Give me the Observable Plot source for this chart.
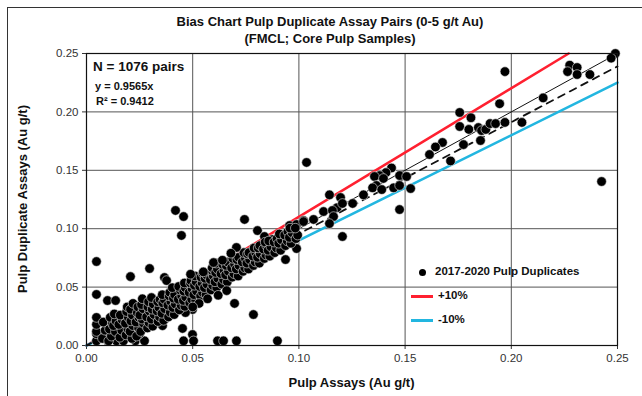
<!DOCTYPE html>
<html>
<head>
<meta charset="utf-8">
<script src="https://cdn.jsdelivr.net/npm/d3@7"></script>
<script src="https://cdn.jsdelivr.net/npm/@observablehq/plot@0.6"></script>
<style>
  html, body { margin: 0; padding: 0; background: #fff; }
  #wrap { position: relative; width: 642px; height: 396px; overflow: hidden; font-family: "Liberation Sans", Arial, sans-serif; color: #111; }
  #border { position: absolute; left: 7px; top: 7px; width: 700px; height: 500px; border-left: 1.5px solid #333; border-top: 1.5px solid #333; }
  .t { position: absolute; font-weight: bold; white-space: nowrap; line-height: 1; }
  #chart { position: absolute; left: 0; top: 0; }
</style>
</head>
<body>
<div id="wrap">
  <div id="border"></div>
  <div id="chart"></div>
  <div class="t" style="font-size:13px; left:0; width:660px; text-align:center; top:15px;">Bias Chart Pulp Duplicate Assay Pairs (0-5 g/t Au)</div>
  <div class="t" style="font-size:13px; left:0; width:660px; text-align:center; top:32px;">(FMCL; Core Pulp Samples)</div>
  <div class="t" style="font-size:13.5px; left:93px; top:60px;">N = 1076 pairs</div>
  <div class="t" style="font-size:11px; left:95px; top:81px;">y = 0.9565x</div>
  <div class="t" style="font-size:11px; left:96px; top:96px;">R² = 0.9412</div>
  <div class="t" style="font-size:13px; left:86px; width:531px; text-align:center; top:376px;">Pulp Assays (Au g/t)</div>
  <div class="t" style="font-size:13px; left:22px; top:199px; transform: translate(-50%,-50%) rotate(-90deg);">Pulp Duplicate Assays (Au g/t)</div>
  <div style="position:absolute; left:419px; top:269px; width:7px; height:7px; border-radius:50%; background:#000;"></div>
  <div class="t" style="font-size:11.5px; left:435px; top:266px;">2017-2020 Pulp Duplicates</div>
  <div style="position:absolute; left:411px; top:295px; width:22px; height:2.5px; background:#ff2030;"></div>
  <div class="t" style="font-size:11.5px; left:438px; top:290px;">+10%</div>
  <div style="position:absolute; left:411px; top:319px; width:22px; height:2.5px; background:#22b6e0;"></div>
  <div class="t" style="font-size:11.5px; left:438px; top:314px;">-10%</div>
</div>
<script>
// Tick values
const xTicks = [0, 0.05, 0.10, 0.15, 0.20, 0.25];
const yTicks = [0, 0.05, 0.10, 0.15, 0.20, 0.25];

// Reference lines (endpoints)
const oneToOneX = [0, 0.25], oneToOneY = [0, 0.25];
const trendX = [0, 0.25], trendY = [0, 0.239];
const plus10X = [0, 0.227], plus10Y = [0, 0.25];
const minus10X = [0, 0.25], minus10Y = [0, 0.225];

// Scatter points: pulp assay (x) and pulp duplicate (y), g/t Au
const pulp = [
  0.249,0.247,0.2275,0.231,0.2265,0.231,0.237,0.197,0.215,0.1945,0.1757,0.181,0.1757,0.180,0.1845,0.186,0.188,0.190,0.1926,0.197,
  0.205,0.1855,0.1775,0.1676,0.1643,0.1615,0.1714,0.1036,0.1436,0.141,0.138,0.1356,0.1474,0.1507,0.1398,0.1365,0.1347,0.139,0.1446,0.1474,
  0.1526,0.2425,0.1304,0.1144,0.1196,0.118,0.1205,0.1253,0.1116,0.1158,0.1163,0.1144,0.1022,0.1069,0.1474,0.1205,
  0.0744,0.0956,0.0989,0.0805,0.0923,0.0838,0.0876,0.0862,0.0909,0.0989,0.0937,
  0.0419,0.0457,0.0447,0.0047,0.0297,0.0207,0.0367,0.0377,0.0047,0.0099,0.0137,0.0697,0.0786,0.0452,0.0499,0.0457,0.0499,0.0466,0.0372,0.0358,
  0.0047,0.010,0.0141,0.0174,0.023,0.0273,0.0457,0.0504,0.0617,0.0645,0.0706,0.0899,
  0.0047,0.009,0.0146,0.018,0.025,
  0.0047,0.0047,0.0047,
  0.0075,0.0088,0.0079,
  0.0104,0.0117,0.0108,0.0121,0.0112,
  0.0136,0.0127,0.0139,0.0131,
  0.0157,0.0166,0.0152,0.0168,0.0159,
  0.0186,0.0195,0.0183,0.0197,0.0189,0.0192,
  0.0214,0.0205,0.0218,0.0209,0.0216,0.0207,0.0219,
  0.0236,0.0245,0.0233,0.0247,0.0239,0.0242,
  0.0255,0.0268,0.0262,0.0251,0.0266,0.0259,0.0263,
  0.0287,0.0294,0.0283,0.0296,0.0289,0.0292,
  0.0312,0.0305,0.0318,0.0309,0.0314,0.0306,
  0.0337,0.0344,0.0332,0.0341,0.0335,0.0346,
  0.0363,0.0355,0.0368,0.0359,0.0366,0.0357,
  0.0386,0.0394,0.0383,0.0397,0.0389,0.0392,
  0.0413,0.0406,0.0418,0.0409,0.0415,0.0404,
  0.0437,0.0445,0.0432,0.0448,0.0441,0.0434,
  0.0463,0.0456,0.0467,0.0458,0.0465,0.0461,
  0.0486,0.0495,0.0483,0.0497,0.0489,0.0492,
  0.0514,0.0505,0.0518,0.0508,0.0516,0.0511,
  0.0537,0.0546,0.0533,0.0544,0.0539,0.0548,
  0.0563,0.0555,0.0567,0.0558,0.0565,
  0.0586,0.0594,0.0583,0.0597,0.0589,0.0592,
  0.0613,0.0605,0.0618,0.0608,0.0616,0.0611,
  0.0637,0.0645,0.0633,0.0647,0.0641,
  0.0663,0.0655,0.0668,0.0658,0.0665,
  0.0686,0.0694,0.0683,0.0697,0.0689,
  0.0714,0.0705,0.0718,0.0708,0.0716,
  0.0737,0.0745,0.0733,0.0748,0.0741,
  0.0763,0.0755,0.0768,0.0758,0.0765,
  0.0786,0.0794,0.0783,0.0797,0.0789,
  0.0814,0.0805,0.0818,0.0808,0.0816,
  0.0837,0.0845,0.0833,0.0848,0.0841,
  0.0863,0.0855,0.0868,0.0858,
  0.0886,0.0894,0.0883,0.0897,
  0.0914,0.0905,0.0918,0.0908,
  0.0937,0.0945,0.0933,0.0948,
  0.0963,0.0955,0.0968,0.0958,
  0.0986,0.0994,0.0983,
  0.0598,0.0706,0.1022,
  0.057,0.062,0.066,0.053,0.050,
  0.049,0.055,0.064,0.068
];
const duplicate = [
  0.250,0.246,0.240,0.238,0.2345,0.232,0.232,0.2345,0.212,0.207,0.1995,0.195,0.1875,0.185,0.1866,0.184,0.185,0.190,0.190,0.191,
  0.191,0.1755,0.172,0.1738,0.170,0.1635,0.158,0.1567,0.152,0.148,0.1455,0.1447,0.1455,0.1447,0.143,0.137,0.135,0.1335,0.135,0.137,
  0.1344,0.1404,0.129,0.129,0.1267,0.118,0.1216,0.1216,0.1147,0.1156,0.1104,0.1044,0.107,0.1079,0.1164,0.0933,
  0.1079,0.1027,0.1036,0.0984,0.095,0.0933,0.0907,0.0856,0.0882,0.083,0.0736,
  0.1156,0.1104,0.0942,0.0719,0.0659,0.059,0.0582,0.0556,0.0437,0.0385,0.0385,0.036,0.0265,0.0146,0.0094,0.0308,0.0308,0.0282,0.023,0.017,
  0.004,0.004,0.004,0.004,0.004,0.004,0.004,0.004,0.004,0.004,0.004,0.004,
  0.010,0.010,0.010,0.010,0.010,
  0.012,0.018,0.024,
  0.006,0.013,0.020,
  0.004,0.008,0.014,0.019,0.024,
  0.012,0.017,0.021,0.027,
  0.007,0.013,0.018,0.022,0.026,
  0.009,0.014,0.019,0.024,0.029,0.033,
  0.006,0.012,0.017,0.021,0.026,0.031,0.036,
  0.008,0.015,0.020,0.024,0.028,0.033,
  0.012,0.019,0.0225,0.026,0.0315,0.035,0.040,
  0.015,0.0195,0.0245,0.0295,0.033,0.0375,
  0.0165,0.0225,0.0265,0.031,0.0355,0.041,
  0.0205,0.0245,0.0295,0.0325,0.0375,0.0395,
  0.0215,0.0275,0.0315,0.0365,0.0395,0.0435,
  0.0245,0.0285,0.0345,0.0375,0.0425,0.0455,
  0.0265,0.0325,0.0355,0.0405,0.0435,0.0495,
  0.0305,0.0345,0.0395,0.0425,0.0475,0.0505,
  0.0335,0.0385,0.0415,0.0465,0.0495,0.0535,
  0.0365,0.0395,0.0455,0.0485,0.0535,0.0555,
  0.0385,0.0435,0.0465,0.0515,0.0545,0.0595,
  0.0425,0.0455,0.0505,0.0535,0.0585,0.0615,
  0.0435,0.0495,0.0525,0.0575,0.0605,
  0.0475,0.0515,0.0565,0.0595,0.0645,0.0665,
  0.0495,0.0545,0.0575,0.0625,0.0655,0.0705,
  0.0525,0.0565,0.0615,0.0645,0.0695,
  0.0545,0.0605,0.0635,0.0685,0.0715,
  0.0585,0.0615,0.0665,0.0695,0.0745,
  0.0595,0.0655,0.0685,0.0735,0.0755,
  0.0635,0.0665,0.0715,0.0745,0.0795,
  0.0655,0.0705,0.0735,0.0785,0.0795,
  0.0685,0.0715,0.0765,0.0795,0.0835,
  0.0705,0.0755,0.0785,0.0835,0.0855,
  0.0745,0.0775,0.0825,0.0855,0.0885,
  0.0765,0.0815,0.0845,0.0895,
  0.0795,0.0835,0.0885,0.0915,
  0.0815,0.0875,0.0905,0.0955,
  0.0855,0.0895,0.0945,0.0975,
  0.0875,0.0925,0.0965,0.1005,
  0.0915,0.0945,0.1005,
  0.071,0.0839,0.1061,
  0.040,0.043,0.047,0.036,0.033,
  0.061,0.063,0.073,0.079
];

const points = pulp.map((x, i) => ({x, y: duplicate[i]}));
const seg = (xs, ys) => xs.map((x, i) => ({x, y: ys[i]}));

const chart = Plot.plot({
  width: 642,
  height: 396,
  marginLeft: 86,
  marginRight: 25,
  marginTop: 53,
  marginBottom: 51,
  style: { fontFamily: "'Liberation Sans', Arial, sans-serif", fontSize: "11.5px", color: "#333", background: "transparent" },
  x: { domain: [0, 0.25], ticks: xTicks, tickFormat: d3.format(".2f"), label: null, tickSize: 4, tickPadding: 4 },
  y: { domain: [0, 0.25], ticks: yTicks, tickFormat: d3.format(".2f"), label: null, tickSize: 4, tickPadding: 4 },
  marks: [
    Plot.gridX(xTicks, { stroke: "#555", strokeOpacity: 1, strokeWidth: 1 }),
    Plot.gridY(yTicks, { stroke: "#555", strokeOpacity: 1, strokeWidth: 1 }),
    Plot.line(seg(plus10X, plus10Y), { x: "x", y: "y", stroke: "#ff2030", strokeWidth: 2.6 }),
    Plot.line(seg(minus10X, minus10Y), { x: "x", y: "y", stroke: "#22b6e0", strokeWidth: 2.6 }),
    Plot.line(seg(oneToOneX, oneToOneY), { x: "x", y: "y", stroke: "#111", strokeWidth: 1 }),
    Plot.line(seg(trendX, trendY), { x: "x", y: "y", stroke: "#111", strokeWidth: 1.8, strokeDasharray: "7,6" }),
    Plot.dot(points, { x: "x", y: "y", r: 4.8, fill: "#000", stroke: "#e8e8e8", strokeWidth: 0.6 }),
    Plot.frame({ stroke: "#111", strokeWidth: 1.2 })
  ]
});
document.getElementById("chart").appendChild(chart);
</script>
</body>
</html>
